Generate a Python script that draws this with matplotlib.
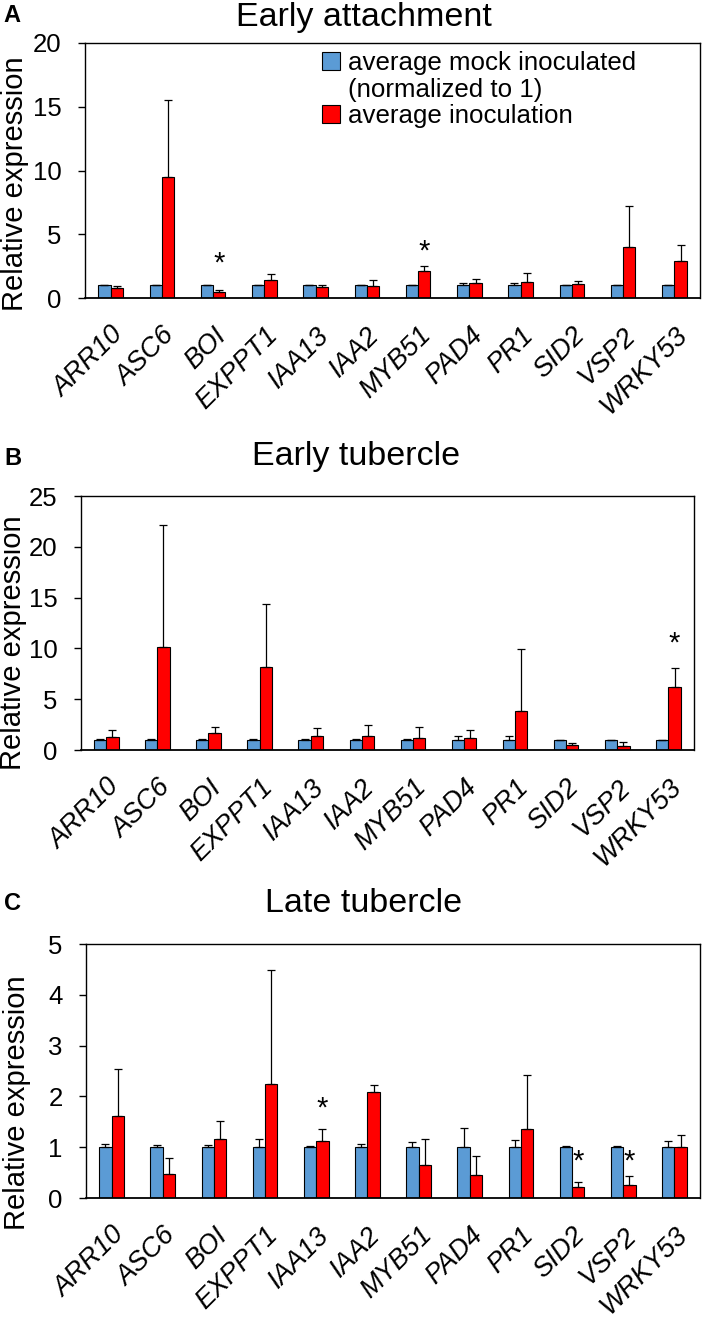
import matplotlib
matplotlib.use("Agg")
import matplotlib.pyplot as plt
from matplotlib.patches import Patch
import numpy as np

plt.rcParams['font.family'] = ['Liberation Sans', 'DejaVu Sans']

genes = ["ARR10", "ASC6", "BOI", "EXPPT1", "IAA13", "IAA2",
         "MYB51", "PAD4", "PR1", "SID2", "VSP2", "WRKY53"]

# Panel A: Early attachment
a_mock = [1, 1, 1, 1, 1, 1, 1, 1, 1, 1, 1, 1]
a_mock_err = [0.03, 0.03, 0.03, 0.03, 0.03, 0.03, 0.03, 0.15, 0.18, 0.03, 0.05, 0.03]
a_inoc = [0.81, 9.46, 0.49, 1.44, 0.84, 0.94, 2.14, 1.20, 1.26, 1.13, 3.98, 2.94]
a_inoc_err = [0.14, 6.09, 0.16, 0.47, 0.16, 0.45, 0.37, 0.27, 0.71, 0.18, 3.25, 1.25]
a_stars = {"BOI": 2.67, "MYB51": 3.64}

# Panel B: Early tubercle
b_mock = [1, 1, 1, 1, 1, 1, 1, 1, 1, 1, 1, 1]
b_mock_err = [0.05, 0.05, 0.05, 0.1, 0.05, 0.05, 0.05, 0.4, 0.35, 0.03, 0.03, 0.03]
b_inoc = [1.31, 10.14, 1.64, 8.20, 1.41, 1.35, 1.21, 1.18, 3.81, 0.52, 0.39, 6.17]
b_inoc_err = [0.66, 11.96, 0.59, 6.14, 0.72, 1.14, 1.02, 0.82, 6.16, 0.14, 0.43, 1.90]
b_stars = {"WRKY53": 10.5}

# Panel C: Late tubercle
c_mock = [1, 1, 1, 1, 1, 1, 1, 1, 1, 1, 1, 1]
c_mock_err = [0.06, 0.04, 0.04, 0.16, 0.03, 0.06, 0.11, 0.38, 0.15, 0.02, 0.03, 0.13]
c_inoc = [1.62, 0.47, 1.16, 2.24, 1.13, 2.09, 0.64, 0.45, 1.35, 0.22, 0.26, 1.00]
c_inoc_err = [0.92, 0.32, 0.36, 2.25, 0.23, 0.14, 0.53, 0.38, 1.07, 0.10, 0.17, 0.24]
c_stars = {"IAA13": 1.77, "SID2": 0.71, "VSP2": 0.71}

titles = ["Early attachment", "Early tubercle", "Late tubercle"]
letters = ["A", "B", "C"]
yticks_list = [[0, 5, 10, 15, 20], [0, 5, 10, 15, 20, 25], [0, 1, 2, 3, 4, 5]]
ylims = [20, 25, 5]

BLUE = "#5B9BD5"
RED = "#FF0000"

W, H = 702, 1318
fig = plt.figure(figsize=(W / 100, H / 100), dpi=100)

def fx(px):
    return px / W

def fy(py):
    return 1 - py / H

# axes boxes in pixels: left, right, top, bottom
boxes = [(85, 700, 43, 298), (80.7, 694, 496, 750), (86, 700, 944, 1198)]
title_pos = [(364, 26), (356, 465), (364, 912)]
letter_pos = [(3, 22), (4, 465), (4, 910)]
ylabel_pos = [(15, 184), (13.5, 643), (16.8, 1103)]

panels = [
    (a_mock, a_mock_err, a_inoc, a_inoc_err, a_stars),
    (b_mock, b_mock_err, b_inoc, b_inoc_err, b_stars),
    (c_mock, c_mock_err, c_inoc, c_inoc_err, c_stars),
]

x = np.arange(len(genes))
bw = 0.24
axes = []
for i, (mock, mock_err, inoc, inoc_err, stars) in enumerate(panels):
    l, r, t, b = boxes[i]
    ax = fig.add_axes([fx(l), fy(b), fx(r) - fx(l), fy(t) - fy(b)])
    axes.append(ax)
    ekw = dict(ecolor="black", elinewidth=0.9, capsize=3.2, capthick=0.9)
    ax.bar(x - bw / 2, mock, bw, color=BLUE, edgecolor="black", linewidth=0.8,
           yerr=[np.zeros(len(mock)), mock_err], error_kw=ekw,
           label="average mock inoculated", zorder=2)
    ax.bar(x + bw / 2, inoc, bw, color=RED, edgecolor="black", linewidth=0.8,
           yerr=[np.zeros(len(inoc)), inoc_err], error_kw=ekw,
           label="average inoculation", zorder=2)
    for g, ys in stars.items():
        gi = genes.index(g)
        ax.text(gi + bw / 2, ys, "*", ha="center", va="center", fontsize=21)
    ax.set_xlim(-0.5, len(genes) - 0.5)
    ax.set_ylim(0, ylims[i])
    ax.set_yticks(yticks_list[i])
    ax.set_xticks(x)
    ax.set_xticklabels(genes, rotation=45, ha="right", rotation_mode="anchor",
                       fontstyle="italic", fontsize=19.5)
    ax.tick_params(axis="x", length=0, pad=17.5)
    ax.tick_params(axis="y", length=5.3, width=1, pad=11.5, labelsize=18.5)
    for s in ax.spines.values():
        s.set_linewidth(1.0)
        s.set_color("black")
    ax.spines["bottom"].set_linewidth(1.3)
    ax.set_ylabel("Relative expression", fontsize=21)
    ax.yaxis.label.set_va("center")
    ax.yaxis.set_label_coords((ylabel_pos[i][0] - l) / (r - l), (b - ylabel_pos[i][1]) / (b - t))
    fig.text(fx(title_pos[i][0]), fy(title_pos[i][1]), titles[i], ha="center",
             va="baseline", fontsize=24.5)
    fig.text(fx(letter_pos[i][0]), fy(letter_pos[i][1]), letters[i], ha="left",
             va="baseline", fontsize=17, fontweight="bold")

# legend in panel A
h_blue = Patch(facecolor=BLUE, edgecolor="black", linewidth=0.8)
h_none = Patch(facecolor="none", edgecolor="none")
h_red = Patch(facecolor=RED, edgecolor="black", linewidth=0.8)
axes[0].legend([h_blue, h_none, h_red],
               ["average mock inoculated", "(normalized to 1)", "average inoculation"],
               loc="upper left", bbox_to_anchor=(fx(322), fy(51)),
               bbox_transform=fig.transFigure, frameon=False, fontsize=18.6,
               handlelength=0.7, handleheight=0.7, handletextpad=0.3,
               labelspacing=0.1, borderaxespad=0, borderpad=0)

fig.savefig("out.png", dpi=100)
